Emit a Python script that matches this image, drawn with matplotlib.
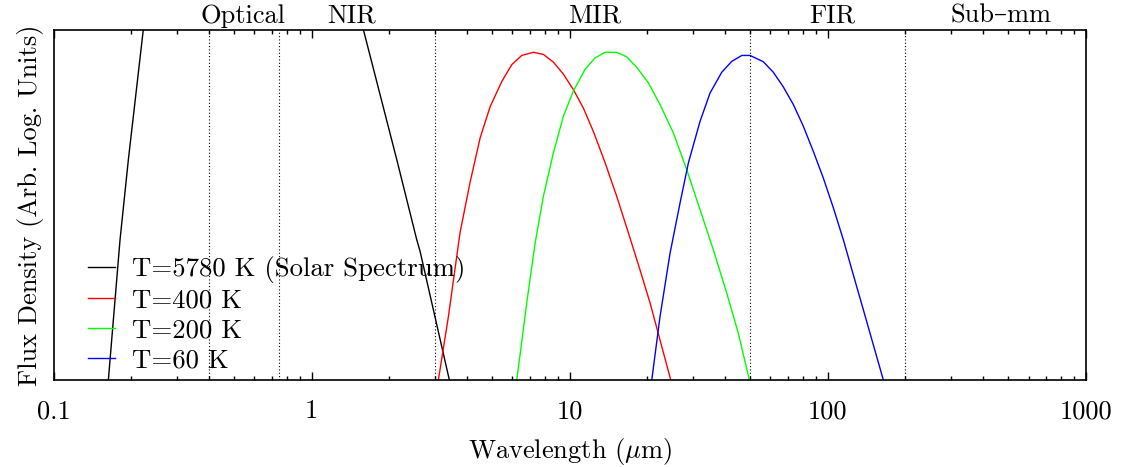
import numpy as np
import matplotlib
matplotlib.use("Agg")
import matplotlib.pyplot as plt
from matplotlib.ticker import FixedLocator, FixedFormatter, LogLocator, NullFormatter

plt.rcParams['font.family'] = ['cmr10', 'DejaVu Serif']
plt.rcParams['mathtext.fontset'] = 'cm'
plt.rcParams['axes.formatter.use_mathtext'] = True
plt.rcParams['font.size'] = 19

# wavelength (micron) vs. flux density (arbitrary log units, 0 = bottom, 1 = top of frame)
wl_5780 = [0.1631, 0.1810, 0.1950, 0.2228, 0.5, 1.587, 2.138, 2.556, 2.633, 3.419]
fx_5780 = [0.0, 0.400, 0.629, 1.0, 1.6, 1.0, 0.629, 0.400, 0.367, 0.0]

wl_400 = [3.10, 3.39, 3.76, 4.11, 4.50, 4.92, 5.46, 5.97, 6.52, 7.23, 7.91, 8.65,
          9.45, 10.33, 11.30, 12.36, 13.72, 15.22, 16.89, 18.74, 20.49, 22.40, 24.65]
fx_400 = [0.0, 0.181, 0.420, 0.563, 0.691, 0.780, 0.852, 0.900, 0.926, 0.935, 0.929, 0.907,
          0.873, 0.829, 0.776, 0.709, 0.620, 0.524, 0.420, 0.314, 0.220, 0.114, 0.0]

wl_200 = [6.24, 6.82, 7.35, 7.91, 8.65, 9.45, 10.33, 11.47, 12.54, 13.72, 15.22, 16.65,
          18.20, 20.18, 22.40, 25.23, 28.43, 32.01, 36.06, 40.62, 45.06, 49.71]
fx_200 = [0.0, 0.220, 0.391, 0.524, 0.648, 0.752, 0.824, 0.886, 0.919, 0.935, 0.935, 0.922,
          0.892, 0.848, 0.786, 0.705, 0.600, 0.486, 0.371, 0.248, 0.133, 0.0]

wl_60 = [20.81, 22.40, 24.50, 26.78, 28.84, 32.01, 35.01, 38.85, 42.48, 46.45, 50.02, 56.32,
         61.56, 67.32, 73.59, 80.47, 87.99, 96.20, 105.2, 115.0, 125.7, 137.5, 150.3, 164.3]
fx_60 = [0.0, 0.181, 0.362, 0.505, 0.619, 0.738, 0.819, 0.878, 0.909, 0.926, 0.926, 0.908,
         0.878, 0.836, 0.786, 0.724, 0.652, 0.576, 0.491, 0.400, 0.300, 0.200, 0.100, 0.0]

band_edges = [0.4, 0.75, 3, 50, 200]
band_names = ["Optical", "NIR", "MIR", "FIR", "Sub–mm"]
band_label_x = [0.54, 1.43, 12.5, 104, 470]

xticks = [0.1, 1, 10, 100, 1000]
xticklabels = ["0.1", "1", "10", "100", "1000"]

fig = plt.figure(figsize=(11.27, 4.67), dpi=100)
ax = fig.add_axes([0.0475, 0.1863, 0.9159, 0.7505])

ax.plot(wl_5780, fx_5780, color="black", lw=1.0, label="T=5780 K (Solar Spectrum)")
ax.plot(wl_400, fx_400, color="#ff0000", lw=1.0, label="T=400 K")
ax.plot(wl_200, fx_200, color="#00ff00", lw=1.0, label="T=200 K")
ax.plot(wl_60, fx_60, color="#0000ff", lw=1.0, label="T=60 K")

for e in band_edges:
    ax.axvline(e, color="black", lw=0.8, ls=(0, (1, 2)))

ax.set_xscale("log")
ax.set_xlim(0.1, 1000)
ax.set_ylim(0, 1)

for name, xp in zip(band_names, band_label_x):
    ax.text(xp, 1.005, name, ha="center", va="bottom", transform=ax.get_xaxis_transform())

ax.xaxis.set_major_locator(FixedLocator(xticks))
ax.xaxis.set_major_formatter(FixedFormatter(xticklabels))
ax.xaxis.set_minor_locator(LogLocator(base=10, subs=np.arange(2, 10), numticks=20))
ax.xaxis.set_minor_formatter(NullFormatter())
ax.set_yticks([])
ax.tick_params(axis="x", which="both", direction="in", top=True, bottom=True, pad=14, width=1)
ax.tick_params(axis="x", which="major", length=6)
ax.tick_params(axis="x", which="minor", length=3)
for s in ax.spines.values():
    s.set_linewidth(1.2)

ax.set_xlabel(r"Wavelength ($\mu$m)", labelpad=9)
ax.set_ylabel("Flux Density (Arb. Log. Units)", labelpad=7)

ax.legend(loc="lower left", frameon=False, handlelength=1.0, handletextpad=0.65,
          labelspacing=0.22, borderaxespad=0.0, bbox_to_anchor=(0.023, -0.008),
          prop={"size": 19.3})

fig.savefig("out.png", dpi=100)
